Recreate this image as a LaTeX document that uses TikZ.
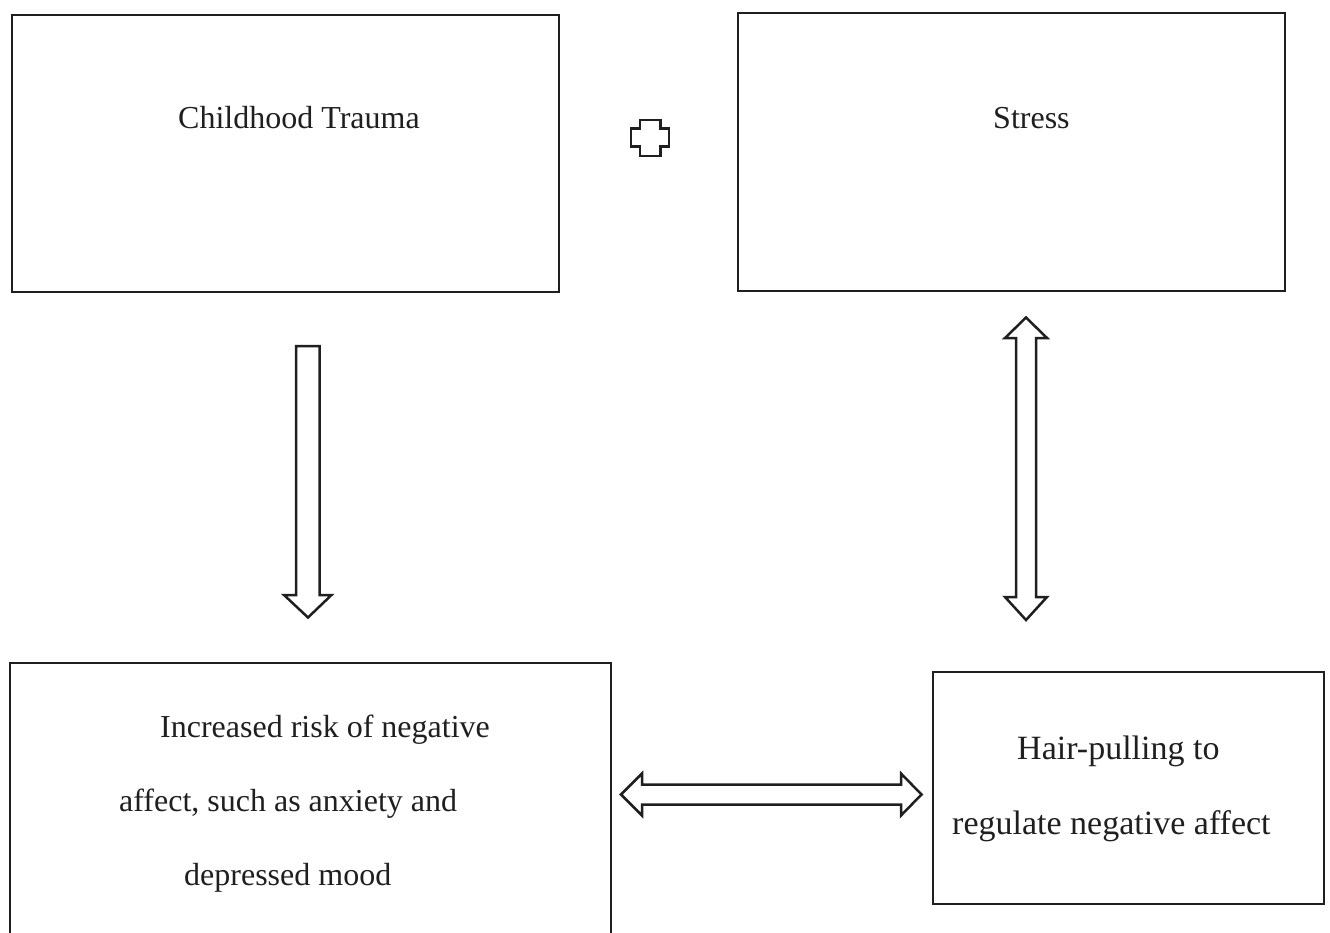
\documentclass[tikz,border=0pt]{standalone}
\usepackage{fontspec}
\setmainfont{Liberation Serif}
\begin{document}
\begin{tikzpicture}[x=1pt,y=-1pt,
  box/.style={draw=black!88, line width=2.5pt, inner sep=0pt},
  lbl/.style={anchor=base west, inner sep=0pt, font=\fontsize{32}{38}\selectfont, text=black!88},
  lblb/.style={lbl, font=\fontsize{34}{40}\selectfont},
  fat/.style={draw=black!88, line width=2.5pt, line join=miter, fill=white}]
\useasboundingbox (0,0) rectangle (1330,933);
\clip (0,0) rectangle (1330,933);
% boxes
\node[box, minimum width=547pt, minimum height=277pt] (ct) at (285.5,153.5) {};
\node[box, minimum width=547pt, minimum height=278pt] (st) at (1011.5,152) {};
\node[box, minimum width=601pt, minimum height=320pt] (na) at (310.5,823) {};
\node[box, minimum width=391pt, minimum height=232pt] (hp) at (1128.5,788) {};
% labels
\node[lbl] (t1) at (178,129) {Childhood Trauma};
\node[lbl] (t2) at (993,129) {Stress};
\node[lbl] (t3) at (160,737) {Increased risk of negative};
\node[lbl] (t4) at (119,811) {affect, such as anxiety and};
\node[lbl] (t5) at (184,885) {depressed mood};
\node[lblb] (t6) at (1017,759) {Hair-pulling to};
\node[lblb] (t7) at (952,834) {regulate negative affect};
% plus sign
\draw[fat, line width=2.8pt] (640,120) -- (660.5,120) -- (660.5,128.5) -- (669,128.5) -- (669,146.5)
  -- (660.5,146.5) -- (660.5,156) -- (640,156) -- (640,146.5) -- (631,146.5) -- (631,128.5)
  -- (640,128.5) -- cycle;
% down arrow from ct to na
\draw[fat] (296,346) -- (319.5,346) -- (319.5,595) -- (331.5,595) -- (308,617.5) -- (284,595)
  -- (296,595) -- cycle;
% vertical double arrow st <-> hp
\draw[fat] (1026,317.5) -- (1047,338) -- (1036,338) -- (1036,597) -- (1047,597) -- (1026,620)
  -- (1005,597) -- (1016,597) -- (1016,338) -- (1005,338) -- cycle;
% horizontal double arrow na <-> hp
\draw[fat] (621,794.5) -- (642,773.5) -- (642,784.5) -- (901,784.5) -- (901,773.5) -- (921.5,794.5)
  -- (901,815.5) -- (901,804.5) -- (642,804.5) -- (642,815.5) -- cycle;
\end{tikzpicture}
\end{document}
